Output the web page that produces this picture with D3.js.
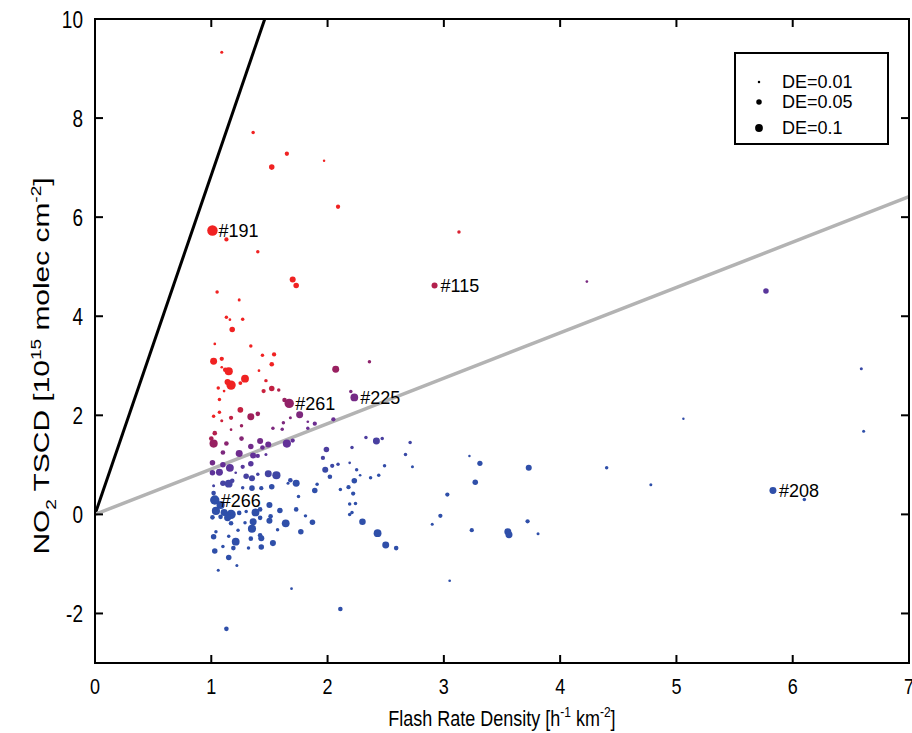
<!DOCTYPE html>
<html>
<head>
<meta charset="utf-8">
<script src="https://cdn.jsdelivr.net/npm/d3@7"></script>
<style>
  body { margin: 0; background: #fff; }
</style>
</head>
<body>
<div id="chart"></div>
<script>
// axis ticks
const xTicks = [0, 1, 2, 3, 4, 5, 6, 7];
const yTicks = [-2, 0, 2, 4, 6, 8, 10];

// reference lines through origin (black steep, gray shallow)
const lineSlopes = [6.85, 0.916];

// legend entries (detection efficiency)
const legendDE = [0.01, 0.05, 0.1];

// labelled events [x, y, name]
const labels = [
  [1.01, 5.73, "#191"],
  [2.92, 4.62, "#115"],
  [1.67, 2.24, "#261"],
  [2.23, 2.36, "#225"],
  [1.03, 0.29, "#266"],
  [5.83, 0.48, "#208"]
];

// [flash rate density, NO2 TSCD, DE]
const points = [
  [1.09, 9.33, 0.015], [1.36, 7.71, 0.02], [1.65, 7.28, 0.03], [1.52, 7.01, 0.05],
  [1.97, 7.14, 0.01], [2.09, 6.21, 0.03], [1.01, 5.73, 0.18], [1.13, 5.55, 0.03],
  [1.40, 5.30, 0.02], [3.13, 5.70, 0.02], [1.70, 4.74, 0.06], [1.73, 4.62, 0.05],
  [2.92, 4.62, 0.06], [4.23, 4.70, 0.012], [5.77, 4.51, 0.05], [1.05, 4.49, 0.02],
  [1.24, 4.33, 0.015], [1.13, 3.98, 0.02], [1.16, 3.93, 0.012], [1.27, 3.94, 0.02],
  [1.18, 3.73, 0.05], [1.03, 3.44, 0.012], [1.34, 3.40, 0.02], [1.02, 3.09, 0.08],
  [1.09, 3.14, 0.03], [1.44, 3.21, 0.02], [1.54, 3.23, 0.03], [1.52, 3.03, 0.035],
  [1.15, 2.89, 0.11], [1.12, 2.92, 0.035], [1.09, 2.97, 0.012], [1.41, 2.90, 0.012],
  [1.29, 2.74, 0.1], [1.17, 2.61, 0.145], [1.14, 2.67, 0.06], [1.25, 2.65, 0.025],
  [1.06, 2.55, 0.02], [1.11, 2.49, 0.012], [1.47, 2.70, 0.02], [1.52, 2.54, 0.05],
  [1.45, 2.49, 0.03], [1.58, 2.51, 0.02], [1.07, 2.32, 0.02], [2.07, 2.93, 0.08],
  [2.36, 3.08, 0.02], [1.63, 2.31, 0.035], [1.67, 2.24, 0.145], [2.20, 2.48, 0.02],
  [2.23, 2.36, 0.1], [1.25, 2.11, 0.055], [1.07, 2.06, 0.02], [1.02, 1.98, 0.02],
  [1.17, 1.95, 0.03], [1.34, 1.97, 0.08], [1.40, 2.03, 0.035], [1.76, 2.01, 0.08],
  [1.68, 1.95, 0.015], [1.09, 1.89, 0.015], [1.26, 1.79, 0.02], [1.17, 1.71, 0.012],
  [1.53, 1.74, 0.02], [1.61, 1.72, 0.02], [1.62, 1.85, 0.02], [1.83, 1.87, 0.012],
  [1.89, 1.83, 0.03], [1.83, 1.74, 0.02], [2.05, 1.92, 0.03], [2.33, 1.55, 0.02],
  [2.42, 1.48, 0.08], [2.21, 1.35, 0.02], [1.99, 1.31, 0.05], [1.00, 1.53, 0.035],
  [1.03, 1.64, 0.035], [1.02, 1.43, 0.11], [1.13, 1.43, 0.035], [1.26, 1.53, 0.035],
  [1.34, 1.37, 0.05], [1.42, 1.48, 0.06], [1.49, 1.41, 0.06], [1.65, 1.43, 0.11],
  [1.70, 1.49, 0.03], [1.10, 1.25, 0.035], [1.24, 1.23, 0.08], [1.44, 1.35, 0.035],
  [1.01, 1.04, 0.05], [1.10, 1.00, 0.05], [1.16, 0.94, 0.1], [1.27, 0.96, 0.03],
  [1.34, 1.02, 0.05], [1.40, 1.18, 0.03], [1.47, 1.21, 0.015], [1.36, 1.19, 0.06],
  [1.01, 0.84, 0.05], [1.07, 0.85, 0.08], [1.21, 0.84, 0.012], [1.30, 0.77, 0.05],
  [1.35, 0.73, 0.06], [1.49, 0.82, 0.08], [1.56, 0.79, 0.11], [1.40, 0.81, 0.02],
  [1.10, 0.63, 0.05], [1.15, 0.62, 0.1], [1.18, 0.68, 0.035], [1.02, 0.58, 0.015],
  [1.02, 0.43, 0.035], [1.27, 0.54, 0.02], [1.35, 0.53, 0.05], [1.43, 0.53, 0.03],
  [1.52, 0.56, 0.05], [1.03, 0.29, 0.145], [1.08, 0.19, 0.11], [1.04, 0.07, 0.11],
  [1.11, 0.04, 0.08], [1.17, 0.00, 0.145], [1.14, -0.07, 0.08], [1.08, -0.05, 0.035],
  [1.01, -0.06, 0.035], [1.24, 0.03, 0.035], [1.30, 0.06, 0.02], [1.38, 0.04, 0.1],
  [1.42, 0.10, 0.035], [1.50, 0.19, 0.06], [1.59, 0.08, 0.05], [1.75, 0.36, 0.02],
  [1.73, 0.10, 0.035], [1.64, -0.18, 0.1], [1.81, -0.03, 0.02], [1.87, -0.16, 0.05],
  [1.51, -0.04, 0.035], [1.50, -0.13, 0.06], [1.42, -0.07, 0.035], [1.29, -0.17, 0.02],
  [1.36, -0.15, 0.08], [1.35, -0.29, 0.11], [1.23, -0.32, 0.02], [1.17, -0.18, 0.035],
  [1.04, -0.35, 0.02], [1.57, -0.31, 0.02], [1.77, -0.35, 0.05], [1.02, -0.45, 0.05],
  [1.15, -0.44, 0.02], [1.21, -0.55, 0.1], [1.19, -0.68, 0.035], [1.34, -0.49, 0.035],
  [1.42, -0.42, 0.035], [1.43, -0.48, 0.06], [1.53, -0.58, 0.06], [1.43, -0.66, 0.05],
  [1.32, -0.68, 0.02], [1.10, -0.65, 0.02], [1.03, -0.74, 0.05], [1.15, -0.87, 0.05],
  [1.06, -1.13, 0.015], [1.22, -1.03, 0.015], [1.69, -1.50, 0.012], [2.11, -1.91, 0.035],
  [1.13, -2.31, 0.035], [1.96, 1.14, 0.03], [1.98, 0.90, 0.06], [2.04, 0.98, 0.03],
  [2.09, 1.01, 0.02], [2.02, 0.76, 0.035], [2.19, 1.04, 0.012], [2.28, 0.79, 0.012],
  [2.25, 0.90, 0.02], [2.23, 0.68, 0.05], [2.37, 0.74, 0.02], [2.44, 0.79, 0.02],
  [2.18, 0.55, 0.03], [2.22, 0.42, 0.03], [2.11, 0.50, 0.02], [1.89, 0.48, 0.05],
  [1.91, 0.61, 0.02], [1.73, 0.63, 0.08], [1.68, 0.69, 0.035], [1.66, 0.63, 0.015],
  [2.19, 0.21, 0.02], [2.24, 0.22, 0.02], [2.21, 0.04, 0.02], [2.19, 0.00, 0.02],
  [2.30, -0.15, 0.07], [2.43, -0.38, 0.1], [2.50, -0.62, 0.08], [2.59, -0.68, 0.035],
  [2.47, 1.53, 0.02], [2.71, 1.45, 0.02], [2.67, 1.21, 0.02], [2.73, 0.96, 0.015],
  [2.49, 0.98, 0.02], [3.03, 0.40, 0.03], [2.90, -0.20, 0.015], [2.97, -0.03, 0.03],
  [3.22, 1.18, 0.01], [3.31, 1.03, 0.045], [3.27, 0.65, 0.05], [3.24, -0.32, 0.03],
  [3.55, -0.35, 0.08], [3.56, -0.41, 0.08], [3.72, -0.14, 0.03], [3.81, -0.39, 0.015],
  [3.73, 0.94, 0.06], [3.05, -1.34, 0.012], [6.59, 2.94, 0.015], [5.06, 1.93, 0.01],
  [6.61, 1.68, 0.015], [4.40, 0.94, 0.02], [4.78, 0.60, 0.015], [5.83, 0.48, 0.08],
  [6.10, 0.30, 0.02]
];

window.onload = function () {
  const width = 912;
  const height = 733;
  const margin = { top: 19, right: 3, bottom: 70, left: 95 };
  const font = "'Liberation Sans', Arial, sans-serif";
  // axis texts of the original look stretched vertically
  const stretch = 1.25;

  const svg = d3.select("#chart")
    .append("svg")
    .attr("width", width)
    .attr("height", height)
    .style("font-family", font);

  const x = d3.scaleLinear().domain([0, 7]).range([margin.left, width - margin.right]);
  const y = d3.scaleLinear().domain([-3, 10]).range([height - margin.bottom, margin.top]);
  const r = d3.scaleSqrt().domain([0, 0.1]).range([0, 3.9]);

  // colour follows the NO2/flash ratio: blue -> purple -> crimson -> red
  const color = d3.scaleLinear()
    .domain([0.35, 0.9, 1.45, 1.95])
    .range(["#2f4fa9", "#652f97", "#9c1f5c", "#f02222"])
    .clamp(true);

  // helper: horizontal text centred on its anchor, optional vertical stretch
  function addText(parent, px, py, str, size, anchor, sy) {
    return parent.append("text")
      .attr("transform", `translate(${px},${py}) scale(1,${sy || 1})`)
      .attr("dy", "0.36em")
      .attr("text-anchor", anchor || "start")
      .style("font-size", size + "px")
      .text(str);
  }

  svg.append("defs").append("clipPath").attr("id", "plot-clip")
    .append("rect")
    .attr("x", x(0)).attr("y", y(10))
    .attr("width", x(7) - x(0)).attr("height", y(-3) - y(10));

  // reference lines
  const lineG = svg.append("g").attr("clip-path", "url(#plot-clip)");
  lineG.selectAll("line")
    .data(lineSlopes)
    .join("line")
    .attr("x1", x(0)).attr("y1", y(0))
    .attr("x2", (s) => x(Math.min(7, 10 / s)))
    .attr("y2", (s) => y(s * Math.min(7, 10 / s)))
    .attr("stroke", (s, i) => (i === 0 ? "#000" : "#b3b3b3"))
    .attr("stroke-width", (s, i) => (i === 0 ? 3 : 3.5));

  // scatter
  svg.append("g")
    .selectAll("circle")
    .data(points)
    .join("circle")
    .attr("cx", (d) => x(d[0]))
    .attr("cy", (d) => y(d[1]))
    .attr("r", (d) => r(d[2]))
    .attr("fill", (d) => color(d[1] / d[0]));

  // event labels
  const labelG = svg.append("g");
  labels.forEach((d) => addText(labelG, x(d[0]) + 6, y(d[1]), d[2], 18));

  // frame and inward ticks
  const axisG = svg.append("g");
  axisG.append("rect")
    .attr("x", x(0)).attr("y", y(10))
    .attr("width", x(7) - x(0)).attr("height", y(-3) - y(10))
    .attr("fill", "none").attr("stroke", "#000").attr("stroke-width", 2);

  const tickLen = 8;
  xTicks.forEach((t) => {
    axisG.append("line")
      .attr("x1", x(t)).attr("x2", x(t))
      .attr("y1", y(-3)).attr("y2", y(-3) - tickLen)
      .attr("stroke", "#000").attr("stroke-width", 2);
    axisG.append("line")
      .attr("x1", x(t)).attr("x2", x(t))
      .attr("y1", y(10)).attr("y2", y(10) + tickLen)
      .attr("stroke", "#000").attr("stroke-width", 2);
    addText(axisG, x(t), y(-3) + 23, t, 18, "middle", stretch);
  });
  yTicks.forEach((t) => {
    axisG.append("line")
      .attr("x1", x(0)).attr("x2", x(0) + tickLen)
      .attr("y1", y(t)).attr("y2", y(t))
      .attr("stroke", "#000").attr("stroke-width", 2);
    axisG.append("line")
      .attr("x1", x(7)).attr("x2", x(7) - tickLen)
      .attr("y1", y(t)).attr("y2", y(t))
      .attr("stroke", "#000").attr("stroke-width", 2);
    addText(axisG, x(0) - 12, y(t), t, 19, "end", stretch);
  });

  // axis titles
  const xTitle = svg.append("text")
    .attr("transform", `translate(${(x(0) + x(7)) / 2},${height - 7}) scale(1,${stretch})`)
    .attr("text-anchor", "middle")
    .style("font-size", "18px");
  xTitle.append("tspan").text("Flash Rate Density [h");
  xTitle.append("tspan").attr("dy", -7).style("font-size", "12px").text("-1");
  xTitle.append("tspan").attr("dy", 7).text(" km");
  xTitle.append("tspan").attr("dy", -7).style("font-size", "12px").text("-2");
  xTitle.append("tspan").attr("dy", 7).text("]");

  const yTitle = svg.append("text")
    .attr("transform", "translate(49,366) rotate(-90) scale(1.36,1)")
    .attr("text-anchor", "middle")
    .style("font-size", "22px");
  yTitle.append("tspan").text("NO");
  yTitle.append("tspan").attr("dy", 7).style("font-size", "14px").text("2");
  yTitle.append("tspan").attr("dy", -7).text(" TSCD [10");
  yTitle.append("tspan").attr("dy", -8).style("font-size", "14px").text("15");
  yTitle.append("tspan").attr("dy", 8).text(" molec cm");
  yTitle.append("tspan").attr("dy", -8).style("font-size", "14px").text("-2");
  yTitle.append("tspan").attr("dy", 8).text("]");

  // legend
  const lg = svg.append("g").attr("transform", "translate(735,53)");
  lg.append("rect")
    .attr("width", 153).attr("height", 91)
    .attr("fill", "#fff").attr("stroke", "#000").attr("stroke-width", 2);
  const rowY = [29, 49, 75];
  lg.selectAll("circle")
    .data(legendDE)
    .join("circle")
    .attr("cx", 24)
    .attr("cy", (d, i) => rowY[i])
    .attr("r", (d) => r(d))
    .attr("fill", "#000");
  legendDE.forEach((d, i) => addText(lg, 47, rowY[i], "DE=" + d, 18));
};
</script>
</body>
</html>
